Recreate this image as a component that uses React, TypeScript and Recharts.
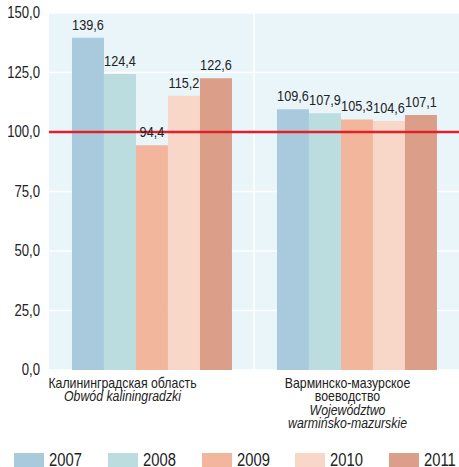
import { BarChart, Bar, XAxis, YAxis, CartesianGrid, ReferenceLine, LabelList } from "recharts";

const YEARS = ["2007", "2008", "2009", "2010", "2011"];
const COLORS = ["#A9CADD", "#BCDDE0", "#F2B69C", "#F8D6C8", "#DA9E89"];
const REGIONS = ["kal", "war"];
const REGION_LINES = [
  [["Калининградская область", false], ["Obwód kaliningradzki", true]],
  [["Варминско-мазурское", false], ["воеводство", false], ["Województwo", true], ["warmińsko-mazurskie", true]],
];
const V2007 = [139.6, 109.6];
const V2008 = [124.4, 107.9];
const V2009 = [94.4, 105.3];
const V2010 = [115.2, 104.6];
const V2011 = [122.6, 107.1];
const Y_TICKS = [0, 25, 50, 75, 100, 125, 150];

const SERIES = [V2007, V2008, V2009, V2010, V2011];
const data = REGIONS.map((r, i) => {
  const row: Record<string, string | number> = { region: r };
  YEARS.forEach((y, k) => (row[y] = SERIES[k][i]));
  return row;
});

// no narrow font installed, so squeeze Liberation Sans like Arial Narrow
const FONT = "'Liberation Sans', Arial, sans-serif";
const SQ = 0.82;
const fmt = (v: number) => v.toFixed(1).replace(".", ",");
const TICK_SHIFT = [-29, -9];

function NarrowText({ x, y, size, anchor = "middle", italic = false, sq = SQ, children }: any) {
  return (
    <text
      transform={`translate(${x},${y}) scale(${sq},1)`}
      textAnchor={anchor}
      fontFamily={FONT}
      fontSize={size}
      fontStyle={italic ? "italic" : "normal"}
      fill="#222"
    >
      {children}
    </text>
  );
}

function RegionTick(props: any) {
  const { x, y, index } = props;
  const lines = REGION_LINES[index] || [];
  return (
    <g>
      {lines.map(([t, it], i) => (
        <NarrowText key={i} x={x + TICK_SHIFT[index]} y={y + 10 + i * 13.4} size={14} sq={0.88} italic={it}>
          {t as string}
        </NarrowText>
      ))}
    </g>
  );
}

function ValueTick(props: any) {
  const { x, y, payload } = props;
  return (
    <NarrowText x={x} y={y + 5} size={16} anchor="end">
      {fmt(payload.value)}
    </NarrowText>
  );
}

function BarValue(props: any) {
  const { x, y, width, value } = props;
  return (
    <NarrowText x={Number(x) + Number(width) / 2} y={Number(y) - 8} size={15.5}>
      {fmt(Number(value))}
    </NarrowText>
  );
}

export default function App() {
  return (
    <div style={{ position: "absolute", left: 0, top: 0, width: 459, height: 467, background: "#fff", overflow: "hidden" }}>
      <BarChart
        width={459}
        height={440}
        data={data}
        margin={{ top: 13, right: 0, left: 0, bottom: 0 }}
        barCategoryGap="11.2%"
        barGap={0}
      >
        <CartesianGrid
          fill="#EAF5FA"
          stroke="#fff"
          strokeWidth={1.5}
          verticalCoordinatesGenerator={({ offset }: any) => [offset.left + offset.width / 2]}
          vertical
        />
        <XAxis dataKey="region" axisLine={false} tickLine={false} height={70} tick={<RegionTick />} interval={0} />
        <YAxis
          domain={[0, 150]}
          ticks={Y_TICKS}
          width={49}
          axisLine={false}
          tickLine={false}
          tick={<ValueTick />}
          tickMargin={3}
        />
        {YEARS.map((y, k) => (
          <Bar key={y} dataKey={y} fill={COLORS[k]} isAnimationActive={false}>
            <LabelList dataKey={y} content={<BarValue />} />
          </Bar>
        ))}
        <ReferenceLine y={100} stroke="#E3202A" strokeWidth={2.5} />
      </BarChart>
      <div style={{ position: "absolute", top: 453, left: 0, width: 459, height: 14 }}>
        {YEARS.map((y, k) => (
          <div key={y} style={{ position: "absolute", left: 14 + k * 93.8, top: 0, display: "flex", alignItems: "flex-start", height: 14 }}>
            <div style={{ width: 30, height: 14, background: COLORS[k] }} />
            <span
              style={{
                marginLeft: 5,
                fontFamily: FONT,
                fontSize: 18,
                color: "#222",
                lineHeight: "14px",
                display: "inline-block",
                transform: `scaleX(${SQ})`,
                transformOrigin: "left top",
              }}
            >
              {y}
            </span>
          </div>
        ))}
      </div>
    </div>
  );
}
